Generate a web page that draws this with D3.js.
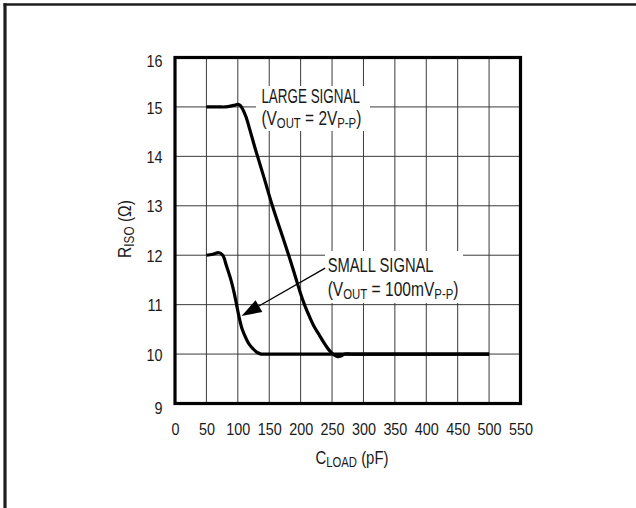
<!DOCTYPE html>
<html><head><meta charset="utf-8">
<script src="https://cdn.jsdelivr.net/npm/d3@7"></script>
<style>
html,body{margin:0;padding:0;background:#fff;}
svg{display:block;}
text{font-family:"Liberation Sans Narrow","Arial Narrow","Liberation Sans",Arial,sans-serif;fill:#1a1a1a;}
</style></head>
<body>
<svg id="chart" width="636" height="508"></svg>
<script>
// ---- data ----
const xTicks = [0,50,100,150,200,250,300,350,400,450,500,550];
const yTicks = [9,10,11,12,13,14,15,16];
const xGrid = [50,100,150,200,250,300,350,400,450,500];
const yGrid = [10,11,12,13,14,15];

const largeC = [50,60,70,80,90,96,100,104,108,113,120,129,141,155,168,181,192,200,207,214,221,229,237,244,250,255,259,264,270,280,300,350,400,450,500];
const largeR = [15,15,15,15,15.02,15.04,15.05,15.03,14.95,14.8,14.5,14.1,13.6,13.0,12.5,12.0,11.55,11.22,10.97,10.76,10.57,10.4,10.23,10.1,10.02,9.97,9.95,9.96,10.0,10,10,10,10,10,10];

const smallC = [50,60,70,76,82,89,94,98,102,107,113,118,124,130,137,145,200,300,400,500];
const smallR = [12.0,12.02,12.05,12.0,11.78,11.5,11.25,11.0,10.75,10.5,10.32,10.2,10.11,10.04,10.0,10.0,10,10,10,10];

const largeLabel = ["LARGE SIGNAL", "(V|OUT| = 2V|P-P|)"];
const smallLabel = ["SMALL SIGNAL", "(V|OUT| = 100mV|P-P|)"];
const xTitle = "C|LOAD| (pF)";
const yTitle = "R|ISO| (Ω)";

// ---- layout ----
const svg = d3.select("#chart");
const x = d3.scaleLinear().domain([0,550]).range([175,520.5]);
const y = d3.scaleLinear().domain([9,16]).range([403.5,57.5]);

// outer frame (top + left)
svg.append("line").attr("x1",3.5).attr("x2",636).attr("y1",4.5).attr("y2",4.5)
  .attr("stroke","#1e1e1e").attr("stroke-width",2.5);
svg.append("line").attr("x1",5).attr("x2",5).attr("y1",3.3).attr("y2",508)
  .attr("stroke","#1e1e1e").attr("stroke-width",3.2);

// gridlines
svg.append("g").selectAll("line").data(xGrid).join("line")
  .attr("x1",d=>x(d)).attr("x2",d=>x(d)).attr("y1",y(16)).attr("y2",y(9))
  .attr("stroke","#3a3a3a").attr("stroke-width",1);
svg.append("g").selectAll("line").data(yGrid).join("line")
  .attr("x1",x(0)).attr("x2",x(550)).attr("y1",d=>y(d)).attr("y2",d=>y(d))
  .attr("stroke","#3a3a3a").attr("stroke-width",1);

// white boxes behind annotations
svg.append("rect").attr("x",256).attr("y",86).attr("width",114).attr("height",45).attr("fill","#fff");
svg.append("rect").attr("x",325).attr("y",251).attr("width",138).attr("height",52).attr("fill","#fff");

// curves
const line = d3.line().x(d=>x(d[0])).y(d=>y(d[1])).curve(d3.curveCatmullRom.alpha(0.5));
svg.append("path").datum(largeC.map((c,i)=>[c,largeR[i]])).attr("d",line)
  .attr("fill","none").attr("stroke","#000").attr("stroke-width",3.2).attr("stroke-linejoin","round");
svg.append("path").datum(smallC.map((c,i)=>[c,smallR[i]])).attr("d",line)
  .attr("fill","none").attr("stroke","#000").attr("stroke-width",3.2).attr("stroke-linejoin","round");

// plot frame
svg.append("rect").attr("x",x(0)).attr("y",y(16)).attr("width",x(550)-x(0)).attr("height",y(9)-y(16))
  .attr("fill","none").attr("stroke","#000").attr("stroke-width",3.2);

// axes
const tickFont = 17;
const xAxis = svg.append("g").attr("transform",`translate(0,${y(9)})`)
  .call(d3.axisBottom(x).tickValues(xTicks).tickSize(0).tickFormat(d3.format("d")));
xAxis.select(".domain").remove();
const yAxis = svg.append("g").attr("transform",`translate(${x(0)},0)`)
  .call(d3.axisLeft(y).tickValues(yTicks).tickSize(0).tickFormat(d3.format("d")));
yAxis.select(".domain").remove();

// measure scale for condensed digits
const probe = svg.append("text").attr("font-size",tickFont).text("550");
const digitScale = 24 / probe.node().getComputedTextLength();
probe.remove();

xAxis.selectAll("text").attr("font-size",tickFont).attr("font-family",null).attr("fill","#1a1a1a")
  .attr("y",32).attr("dy",null).attr("transform",`scale(${digitScale},1)`);
yAxis.selectAll("text").attr("font-size",tickFont).attr("font-family",null).attr("fill","#1a1a1a")
  .attr("x",0).attr("dy",d=> d===9 ? 10 : d===16 ? 8.5 : 6.2)
  .attr("transform",`translate(-12.5,0) scale(${digitScale},1)`);

// rich text helper: parts separated by '|' alternate normal / subscript
function richText(parent, str, size, subSize, shift){
  const t = parent.append("text").attr("font-size",size);
  const parts = str.split("|");
  let sub = false, cur = 0;
  parts.forEach((p,i)=>{
    if(p.length===0){ sub = !sub; return; }
    const target = sub ? shift : 0;
    t.append("tspan").attr("font-size", sub?subSize:size).attr("dy", target-cur).text(p);
    cur = target;
    sub = !sub;
  });
  return t;
}
function placeText(str, px, py, size, subSize, shift, width, anchor, rotate){
  const g = svg.append("g");
  const t = richText(g, str, size, subSize, shift).attr("text-anchor", anchor||"start");
  const w = t.node().getComputedTextLength();
  const s = width / w;
  t.attr("transform",`scale(${s},1)`);
  g.attr("transform",`translate(${px},${py})` + (rotate?` rotate(${rotate})`:""));
  return g;
}

// annotations (anchored via data-space positions)
placeText(largeLabel[0], x(137.5), y(15.07), 20.5, 15, 3, 98.6);
placeText(largeLabel[1], x(137.5), y(14.635), 20.5, 15, 3, 100);
placeText(smallLabel[0], x(243), y(11.66), 20.5, 15, 3, 106);
placeText(smallLabel[1], x(243), y(11.18), 20.5, 15, 3, 131);

// arrow
const aStart = [x(239), y(11.74)];
const aTip = [x(106), y(10.77)];
const dx = aTip[0]-aStart[0], dy = aTip[1]-aStart[1];
const L = Math.hypot(dx,dy), ux = dx/L, uy = dy/L;
const headLen = 20, headHalf = 6.8;
const base = [aTip[0]-ux*headLen, aTip[1]-uy*headLen];
svg.append("line").attr("x1",aStart[0]).attr("y1",aStart[1]).attr("x2",base[0]+ux*2).attr("y2",base[1]+uy*2)
  .attr("stroke","#000").attr("stroke-width",1.3);
svg.append("path").attr("d", d3.line()([
  aTip, [base[0]-uy*headHalf, base[1]+ux*headHalf], [base[0]+uy*headHalf, base[1]-ux*headHalf]
]) + "Z").attr("fill","#000");

// axis titles
placeText(xTitle, 352, 463.7, 18.5, 14, 3, 73, "middle");
placeText(yTitle, 131, 229, 18.5, 14, 3, 58, "middle", -90);
</script>
</body></html>
